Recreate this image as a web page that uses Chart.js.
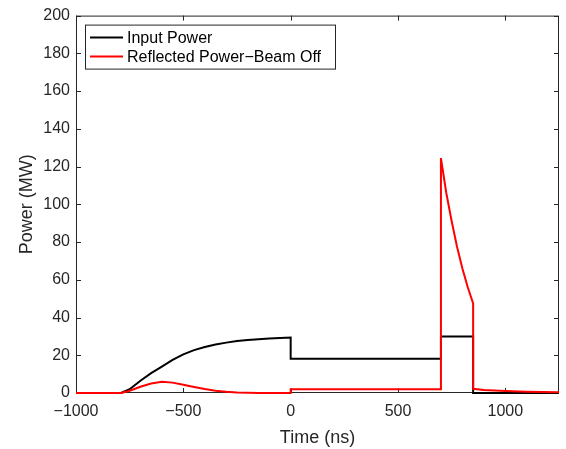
<!DOCTYPE html>
<html>
<head>
<meta charset="utf-8">
<script src="https://cdn.jsdelivr.net/npm/chart.js@4.4.0/dist/chart.umd.min.js"></script>
<style>
  html, body { margin: 0; padding: 0; background: #fff; }
</style>
</head>
<body>
<canvas id="powerChart" width="566" height="449"></canvas>
<script>
// values
const timeInput = [-1000, -790, -750, -700, -650, -600, -550, -500, -450, -400, -350, -300, -250, -200, -150, -100, -50, 0, 0, 700, 700, 850, 850, 1250];
const powerInput = [0, 0, 2, 6.5, 10.5, 14, 17.5, 20.5, 22.7, 24.4, 25.7, 26.7, 27.5, 28.1, 28.5, 28.9, 29.2, 29.4, 18.2, 18.2, 30, 30, 0, 0];

const timeRefl = [-1000, -790, -750, -700, -650, -600, -550, -500, -450, -400, -350, -300, -250, -200, -150, 0, 0, 700, 700, 725, 750, 775, 800, 825, 850, 850, 900, 1000, 1100, 1250];
const powerRefl = [0, 0, 1.2, 3.3, 5, 5.9, 5.5, 4.4, 3.2, 2.1, 1.2, 0.6, 0.25, 0.1, 0, 0, 2, 2, 124.5, 106, 91, 77.5, 66, 56, 47.5, 2.2, 1.6, 1.1, 0.7, 0.4];

const xTicks = [-1000, -500, 0, 500, 1000];
const yTicks = [0, 20, 40, 60, 80, 100, 120, 140, 160, 180, 200];

const axisColor = '#262626';
const fontFamily = "'Liberation Sans', Arial, Helvetica, sans-serif";

let toPoints = (xs, ys) => xs.map((x, i) => ({x: x, y: ys[i]}));

let fmt = (v) => v < 0 ? '\u2212' + Math.abs(v) : String(v);

// box round the axes with inward ticks, like matlab
const framePlugin = {
    id: 'frame',
    beforeDatasetsDraw(chart) {
        const {ctx, chartArea: a, scales: {x, y}} = chart;
        ctx.save();
        ctx.strokeStyle = axisColor;
        ctx.lineWidth = 1;
        ctx.strokeRect(a.left + 0.5, a.top + 0.5, a.right - a.left - 1, a.bottom - a.top - 1);
        ctx.beginPath();
        xTicks.forEach(v => {
            const px = Math.round(x.getPixelForValue(v)) + 0.5;
            ctx.moveTo(px, a.bottom); ctx.lineTo(px, a.bottom - 5);
            ctx.moveTo(px, a.top); ctx.lineTo(px, a.top + 5);
        });
        yTicks.forEach(v => {
            const py = Math.round(y.getPixelForValue(v)) + 0.5;
            ctx.moveTo(a.left, py); ctx.lineTo(a.left + 5, py);
            ctx.moveTo(a.right, py); ctx.lineTo(a.right - 5, py);
        });
        ctx.stroke();
        ctx.restore();
    }
};

// legend box inside the plot, top left
const boxLegend = {
    id: 'boxLegend',
    afterDraw(chart) {
        const {ctx, chartArea: a} = chart;
        const left = a.left + 9, top = a.top + 9;
        ctx.save();
        ctx.fillStyle = '#fff';
        ctx.fillRect(left, top, 250, 44);
        ctx.strokeStyle = axisColor;
        ctx.lineWidth = 1;
        ctx.strokeRect(left + 0.5, top + 0.5, 250, 44);
        ctx.font = '16px ' + fontFamily;
        ctx.textBaseline = 'middle';
        chart.data.datasets.forEach((ds, i) => {
            const cy = top + 13 + i * 19;
            ctx.strokeStyle = ds.borderColor;
            ctx.lineWidth = 2;
            ctx.beginPath();
            ctx.moveTo(left + 5, cy);
            ctx.lineTo(left + 38, cy);
            ctx.stroke();
            ctx.fillStyle = '#000';
            ctx.fillText(ds.label, left + 42, cy + 1);
        });
        ctx.restore();
    }
};

let ctx = document.getElementById('powerChart').getContext('2d');

let chart = new Chart(ctx, {
    type: 'scatter',
    data: {
        datasets: [
            {
                label: 'Input Power',
                data: toPoints(timeInput, powerInput),
                showLine: true,
                borderColor: '#000000',
                backgroundColor: '#000000',
                borderWidth: 2,
                pointRadius: 0,
                tension: 0,
                clip: 5,
                order: 2
            },
            {
                label: 'Reflected Power\u2212Beam Off',
                data: toPoints(timeRefl, powerRefl),
                showLine: true,
                borderColor: '#ff0000',
                backgroundColor: '#ff0000',
                borderWidth: 2,
                pointRadius: 0,
                tension: 0,
                clip: 5,
                order: 1
            }]
    },
    options: {
        responsive: false,
        animation: false,
        layout: {padding: {left: 0, right: 7, top: 12, bottom: 0}},
        plugins: {
            legend: {display: false},
            tooltip: {enabled: false}
        },
        scales: {
            x: {
                type: 'linear',
                min: -1000,
                max: 1250,
                grid: {display: false, drawTicks: false},
                border: {display: false},
                afterBuildTicks: (s) => { s.ticks = xTicks.map(v => ({value: v})); },
                afterFit: (s) => { s.height = 56; },
                ticks: {
                    color: axisColor,
                    padding: 9,
                    maxRotation: 0,
                    font: {family: fontFamily, size: 16},
                    callback: fmt
                },
                title: {
                    display: true,
                    text: 'Time (ns)',
                    color: axisColor,
                    font: {family: fontFamily, size: 18},
                    padding: {top: 6, bottom: 0}
                }
            },
            y: {
                min: 0,
                max: 200,
                grid: {display: false, drawTicks: false},
                border: {display: false},
                afterBuildTicks: (s) => { s.ticks = yTicks.map(v => ({value: v})); },
                afterFit: (s) => { s.width = 76; },
                ticks: {
                    color: axisColor,
                    padding: 6,
                    font: {family: fontFamily, size: 16},
                    callback: fmt
                },
                title: {
                    display: true,
                    text: 'Power (MW)',
                    color: axisColor,
                    font: {family: fontFamily, size: 18},
                    padding: {top: 16, bottom: 0}
                }
            }
        }
    },
    plugins: [framePlugin, boxLegend]
});
</script>
</body>
</html>
